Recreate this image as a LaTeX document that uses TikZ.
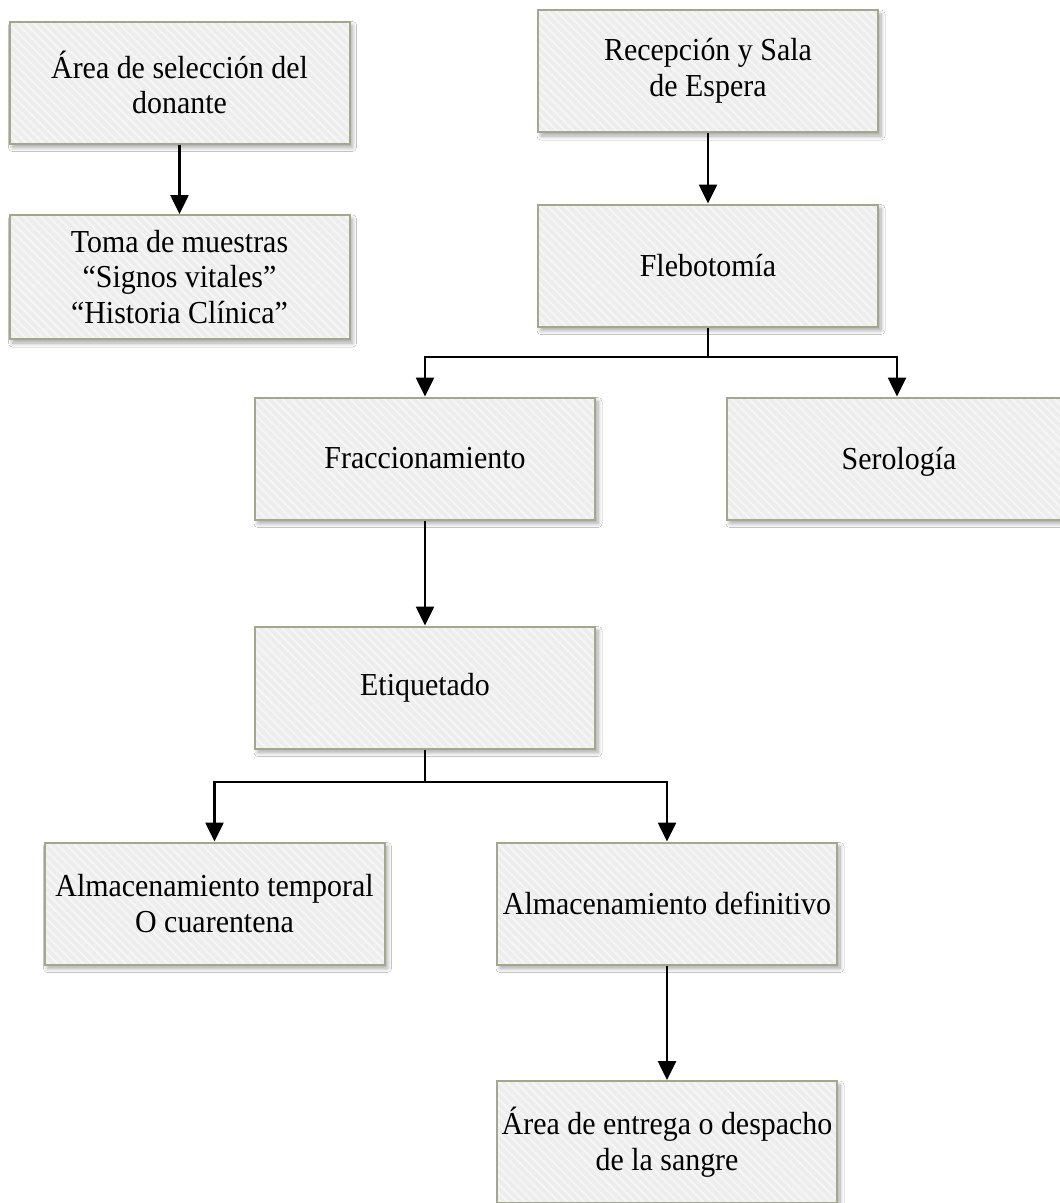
\documentclass[tikz,border=0pt]{standalone}
\usepackage{fontspec}
\setmainfont{Liberation Serif}[FakeStretch=0.935]
\usetikzlibrary{arrows.meta,shadows.blur,patterns.meta}
\definecolor{boxborder}{HTML}{A3A88C}
\definecolor{boxfill}{HTML}{EDEDED}
\definecolor{stripe}{HTML}{F6F6F6}
\tikzset{
 stagebox/.style={blur shadow={shadow xshift=3pt, shadow yshift=-4pt, shadow blur steps=8, shadow opacity=35, shadow blur radius=4pt},
   preaction={fill=boxfill},
   preaction={pattern={Lines[angle=-45,distance=6pt,line width=2pt]}, pattern color=stripe},
   draw=boxborder, line width=2pt, minimum width=340pt, minimum height=122pt,
   align=center, inner sep=2pt, font=\fontsize{32}{35.5}\selectfont},
 flow/.style={line width=2.6pt, draw=black, -{Triangle[length=19pt,width=18pt]}},
 link/.style={line width=2.6pt, draw=black}
}
\begin{document}
\begin{tikzpicture}[x=1pt,y=-1pt]
\fill[white] (0,0) rectangle (1060,1203);
\useasboundingbox (0,0) rectangle (1060,1203);
\node[stagebox] (sel) at (179.5,82.5) {Área de selección del\\donante};
\node[stagebox, minimum height=124pt] (toma) at (179.5,277) {Toma de muestras\\“Signos vitales”\\“Historia Clínica”};
\node[stagebox] (rec) at (708,71) {Recepción y Sala\\de Espera};
\node[stagebox] (fleb) at (708,265.5) {Flebotomía};
\node[stagebox] (frac) at (425,458.5) {Fraccionamiento};
\node[stagebox, minimum width=344pt, text depth=0pt] (sero) at (899,458.5) {Serología};
\node[stagebox] (etiq) at (425,687.5) {Etiquetado};
\node[stagebox] (temp) at (214.5,903.5) {Almacenamiento temporal\\O cuarentena};
\node[stagebox] (defi) at (667,903.5) {Almacenamiento definitivo};
\node[stagebox] (entr) at (667,1142) {Área de entrega o despacho\\de la sangre};
\draw[flow] (sel.south) -- (toma.north);
\draw[flow] (rec.south) -- (fleb.north);
\coordinate (j1) at (708,357);
\coordinate (j1r) at (897,357);
\draw[link] (fleb.south) -- (j1);
\draw[flow] (j1) -| (frac.north);
\draw[flow] (j1) -- (j1r) -- (j1r |- sero.north);
\draw[flow] (frac.south) -- (etiq.north);
\coordinate (j2) at (425,782);
\draw[link] (etiq.south) -- (j2);
\draw[flow] (j2) -| (temp.north);
\draw[flow] (j2) -| (defi.north);
\draw[flow] (defi.south) -- (entr.north);
\end{tikzpicture}
\end{document}
